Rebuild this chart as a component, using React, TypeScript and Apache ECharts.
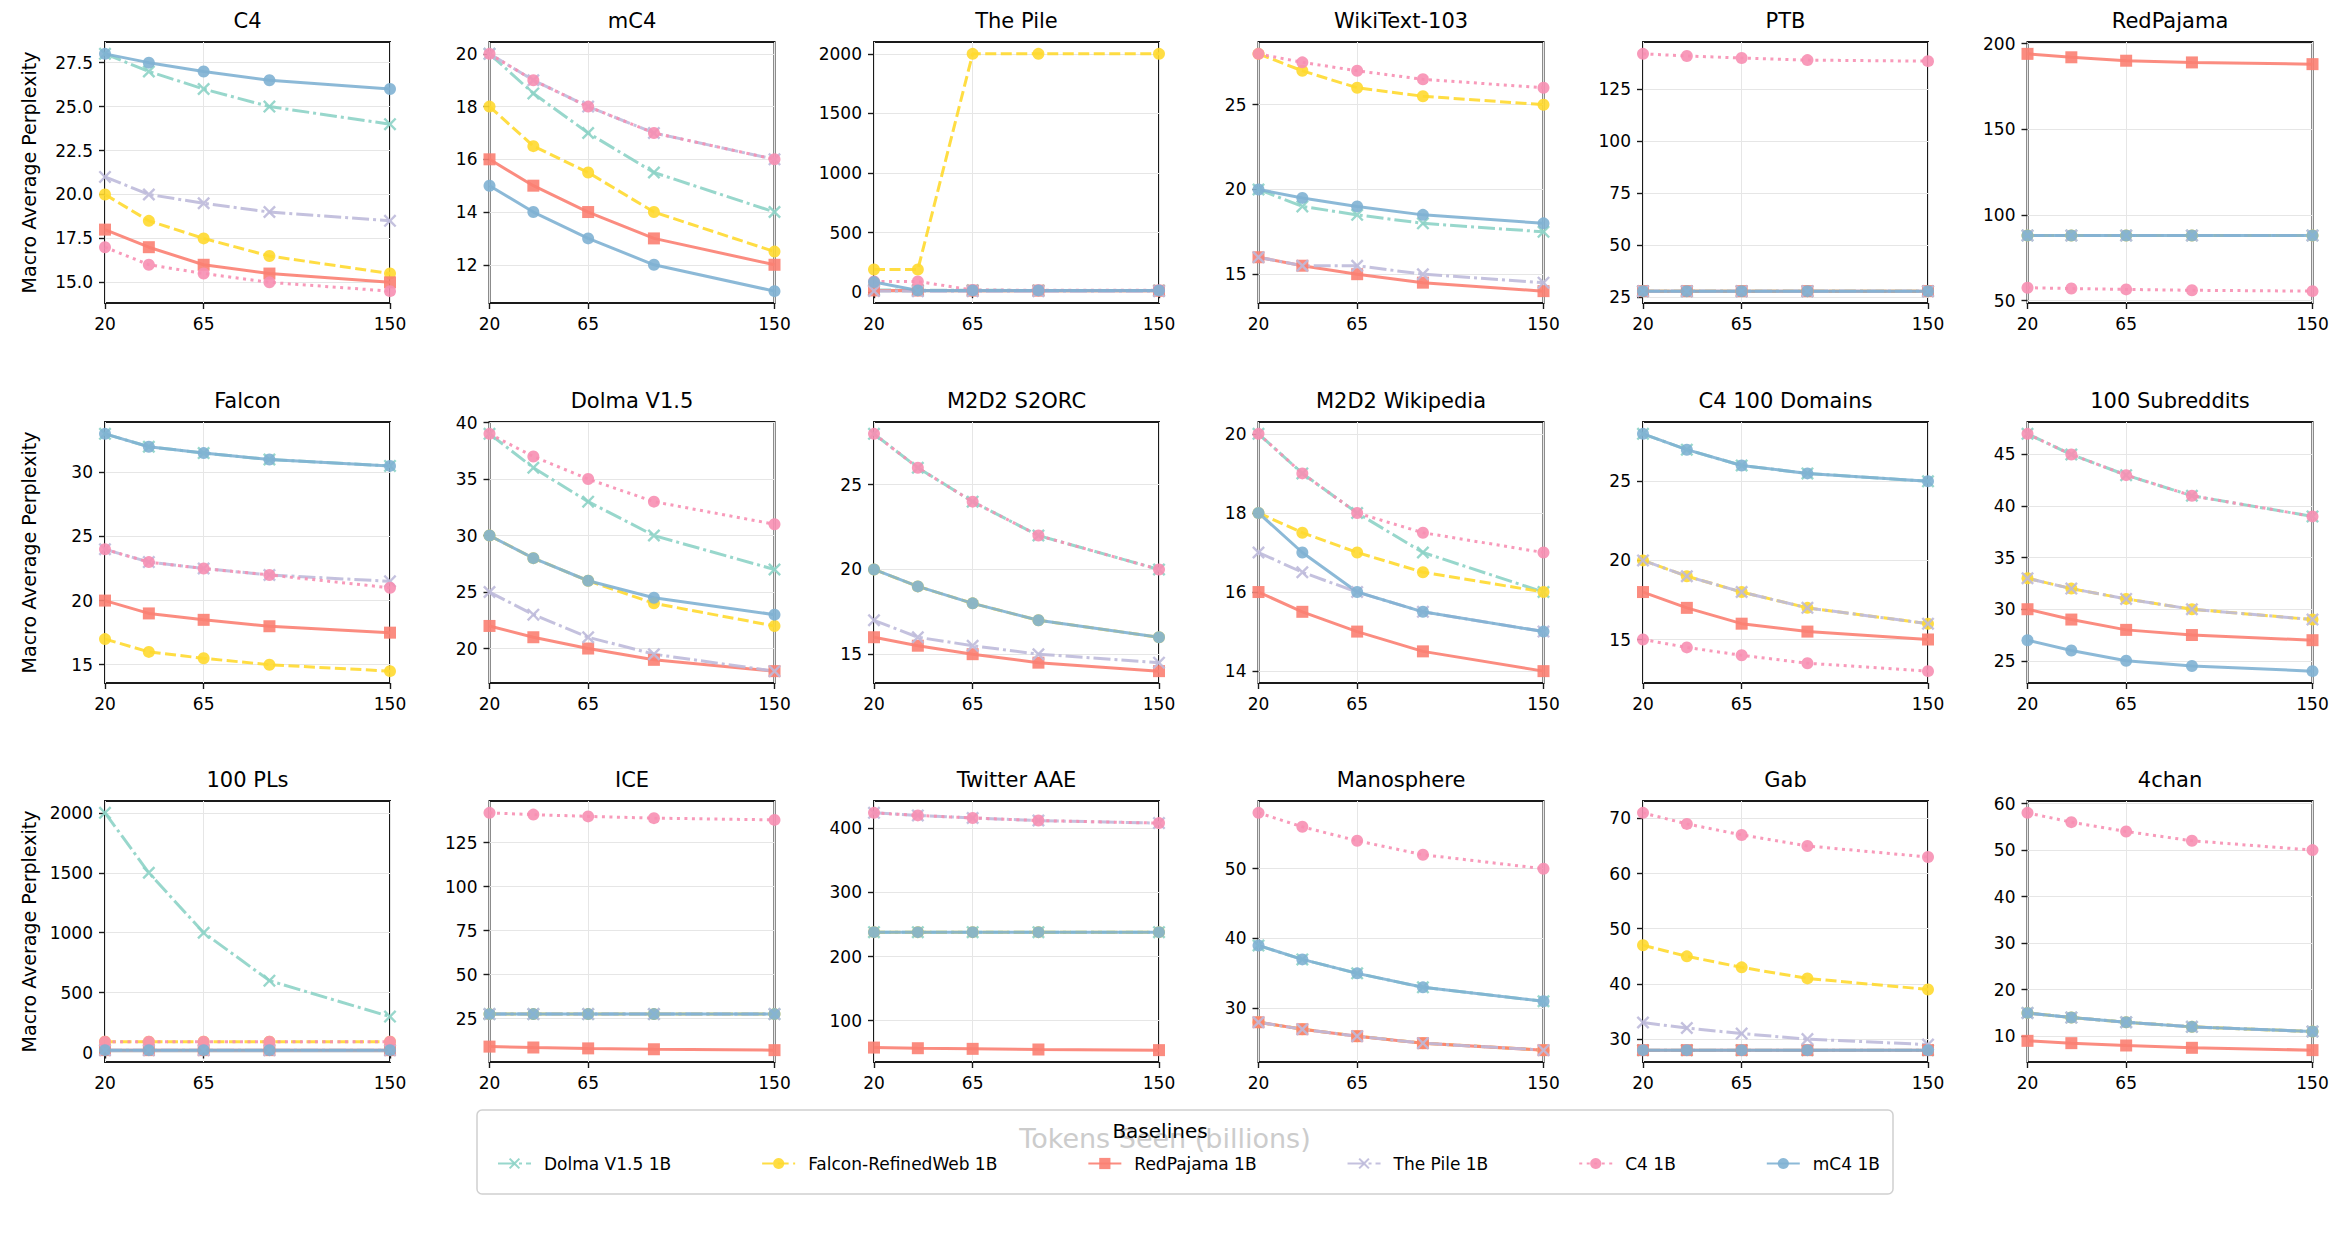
import React, { useEffect, useRef } from "react";
import * as echarts from "echarts";

// ---------------- data ----------------
const tokens = [20, 40, 65, 95, 150];
const xTickValues = [20, 65, 150];

const baselines = ["Dolma V1.5 1B", "Falcon-RefinedWeb 1B", "RedPajama 1B", "The Pile 1B", "C4 1B", "mC4 1B"];

const panelTitles = [
  "C4", "mC4", "The Pile", "WikiText-103", "PTB", "RedPajama",
  "Falcon", "Dolma V1.5", "M2D2 S2ORC", "M2D2 Wikipedia", "C4 100 Domains", "100 Subreddits",
  "100 PLs", "ICE", "Twitter AAE", "Manosphere", "Gab", "4chan",
];

const dolmaPPL = [
  [28, 27, 26, 25, 24], [20, 18.5, 17, 15.5, 14], [18, 17, 16, 15, 15], [20, 19, 18.5, 18, 17.5], [28, 28, 28, 28, 28], [88, 88, 88, 88, 88],
  [33, 32, 31.5, 31, 30.5], [39, 36, 33, 30, 27], [28, 26, 24, 22, 20], [20, 19, 18, 17, 16], [28, 27, 26, 25.5, 25], [47, 45, 43, 41, 39],
  [2000, 1500, 1000, 600, 300], [27.5, 27.5, 27.5, 27.5, 27.5], [238, 238, 238, 238, 238], [39, 37, 35, 33, 31], [28, 28, 28, 28, 28], [15, 14, 13, 12, 11],
];
const falconPPL = [
  [20, 18.5, 17.5, 16.5, 15.5], [18, 16.5, 15.5, 14, 12.5], [190, 190, 2000, 2000, 2000], [28, 27, 26, 25.5, 25], [28, 28, 28, 28, 28], [88, 88, 88, 88, 88],
  [17, 16, 15.5, 15, 14.5], [30, 28, 26, 24, 22], [20, 19, 18, 17, 16], [18, 17.5, 17, 16.5, 16], [20, 19, 18, 17, 16], [33, 32, 31, 30, 29],
  [90, 90, 90, 90, 90], [27.5, 27.5, 27.5, 27.5, 27.5], [238, 238, 238, 238, 238], [28, 27, 26, 25, 24], [47, 45, 43, 41, 39], [15, 14, 13, 12, 11],
];
const redPajamaPPL = [
  [18, 17, 16, 15.5, 15], [16, 15, 14, 13, 12], [15, 14, 13, 13, 12], [16, 15.5, 15, 14.5, 14], [28, 28, 28, 28, 28], [194, 192, 190, 189, 188],
  [20, 19, 18.5, 18, 17.5], [22, 21, 20, 19, 18], [16, 15.5, 15, 14.5, 14], [16, 15.5, 15, 14.5, 14], [18, 17, 16, 15.5, 15], [30, 29, 28, 27.5, 27],
  [20, 20, 20, 20, 20], [9, 8.5, 8, 7.5, 7], [58, 57, 56, 55, 54], [28, 27, 26, 25, 24], [28, 28, 28, 28, 28], [9, 8.5, 8, 7.5, 7],
];
const pilePPL = [
  [21, 20, 19.5, 19, 18.5], [20, 19, 18, 17, 16], [10, 9, 9, 9, 9], [16, 15.5, 15.5, 15, 14.5], [28, 28, 28, 28, 28], [88, 88, 88, 88, 88],
  [24, 23, 22.5, 22, 21.5], [25, 23, 21, 19.5, 18], [17, 16, 15.5, 15, 14.5], [17, 16.5, 16, 15.5, 15], [20, 19, 18, 17, 16], [33, 32, 31, 30, 29],
  [20, 20, 20, 20, 20], [27.5, 27.5, 27.5, 27.5, 27.5], [424, 420, 416, 412, 408], [28, 27, 26, 25, 24], [33, 32, 31, 30, 29], [15, 14, 13, 12, 11],
];
const c4PPL = [
  [17, 16, 15.5, 15, 14.5], [20, 19, 18, 17, 16], [90, 90, 18, 17, 17], [28, 27.5, 27, 26.5, 26], [142, 141, 140, 139, 138.5], [57.5, 57, 56.5, 56, 55.5],
  [24, 23, 22.5, 22, 21], [39, 37, 35, 33, 31], [28, 26, 24, 22, 20], [20, 19, 18, 17.5, 17], [15, 14.5, 14, 13.5, 13], [47, 45, 43, 41, 39],
  [90, 90, 90, 90, 90], [142, 141, 140, 139, 138], [424, 420, 416, 412, 408], [58, 56, 54, 52, 50], [71, 69, 67, 65, 63], [58, 56, 54, 52, 50],
];
const mc4PPL = [
  [28, 27.5, 27, 26.5, 26], [15, 14, 13, 12, 11], [85, 15, 15, 15, 15], [20, 19.5, 19, 18.5, 18], [28, 28, 28, 28, 28], [88, 88, 88, 88, 88],
  [33, 32, 31.5, 31, 30.5], [30, 28, 26, 24.5, 23], [20, 19, 18, 17, 16], [18, 17, 16, 15.5, 15], [28, 27, 26, 25.5, 25], [27, 26, 25, 24.5, 24],
  [20, 20, 20, 20, 20], [27.5, 27.5, 27.5, 27.5, 27.5], [238, 238, 238, 238, 238], [39, 37, 35, 33, 31], [28, 28, 28, 28, 28], [15, 14, 13, 12, 11],
];

const yTickValues = [
  [15, 17.5, 20, 22.5, 25, 27.5], [12, 14, 16, 18, 20], [0, 500, 1000, 1500, 2000], [15, 20, 25], [25, 50, 75, 100, 125], [50, 100, 150, 200],
  [15, 20, 25, 30], [20, 25, 30, 35, 40], [15, 20, 25], [14, 16, 18, 20], [15, 20, 25], [25, 30, 35, 40, 45],
  [0, 500, 1000, 1500, 2000], [25, 50, 75, 100, 125], [100, 200, 300, 400], [30, 40, 50], [30, 40, 50, 60, 70], [10, 20, 30, 40, 50, 60],
];

const allSeries = [dolmaPPL, falconPPL, redPajamaPPL, pilePPL, c4PPL, mc4PPL];

// ---------------- styles / layout ----------------
const FONT = "DejaVu Sans";
const X_PATH = "path://M0,1.3L1.3,0L5,3.7L8.7,0L10,1.3L6.3,5L10,8.7L8.7,10L5,6.3L1.3,10L0,8.7L3.7,5Z";
const seriesStyles = [
  { color: "#8dd3c7", dash: [17, 4, 3, 4] as any, symbol: X_PATH, size: 13 },
  { color: "#ffd92f", dash: [11, 4.5] as any, symbol: "circle", size: 12 },
  { color: "#fb8072", dash: "solid" as any, symbol: "rect", size: 12 },
  { color: "#bebada", dash: [17, 4, 3, 4] as any, symbol: X_PATH, size: 13 },
  { color: "#f78fb3", dash: [3, 4.5] as any, symbol: "circle", size: 12 },
  { color: "#80b1d3", dash: "solid" as any, symbol: "circle", size: 12 },
];

const COL_LEFT0 = 105;
const COL_STEP = 384.5;
const PLOT_W = 285;
const ROW_TOPS = [42, 422, 801];
const PLOT_H = 261;

function buildOption() {
  const grids: any[] = [];
  const xAxes: any[] = [];
  const yAxes: any[] = [];
  const series: any[] = [];
  const graphics: any[] = [];

  panelTitles.forEach((title, i) => {
    const r = Math.floor(i / 6);
    const c = i % 6;
    const left = COL_LEFT0 + c * COL_STEP;
    const top = ROW_TOPS[r];
    grids.push({
      left, top, width: PLOT_W, height: PLOT_H,
      show: true, borderColor: "#1a1a1a", borderWidth: 2, backgroundColor: "transparent",
      containLabel: false, outerBoundsMode: "none",
    });

    let lo = Infinity, hi = -Infinity;
    allSeries.forEach((s) => s[i].forEach((v) => { lo = Math.min(lo, v); hi = Math.max(hi, v); }));
    const pad = (hi - lo) * 0.05;
    const ticks = yTickValues[i];
    const decimals = ticks.some((t) => Math.round(t) !== t) ? 1 : 0;

    xAxes.push({
      type: "value", gridIndex: i, min: 20, max: 150,
      axisLine: { show: false },
      axisTick: { show: true, length: 6, lineStyle: { color: "#1a1a1a", width: 1.4 }, customValues: xTickValues },
      axisLabel: { customValues: xTickValues, fontSize: 17, fontFamily: FONT, color: "#000", margin: 12, formatter: (v: number) => String(v) },
      splitLine: { show: true, lineStyle: { color: "#e6e6e6", width: 1 } },
    });
    yAxes.push({
      type: "value", gridIndex: i, min: lo - pad, max: hi + pad,
      axisLine: { show: false },
      axisTick: { show: true, length: 6, lineStyle: { color: "#1a1a1a", width: 1.4 }, customValues: ticks },
      axisLabel: { customValues: ticks, fontSize: 17, fontFamily: FONT, color: "#000", margin: 12, formatter: (v: number) => v.toFixed(decimals) },
      splitLine: { show: true, lineStyle: { color: "#e6e6e6", width: 1 } },
    });

    allSeries.forEach((s, k) => {
      const st = seriesStyles[k];
      series.push({
        type: "line", name: baselines[k], xAxisIndex: i, yAxisIndex: i,
        data: tokens.map((t, j) => [t, s[i][j]]),
        symbol: st.symbol, symbolSize: st.size, showSymbol: true,
        lineStyle: { color: st.color, width: 3, type: st.dash, opacity: 0.9, cap: "butt" },
        itemStyle: { color: st.color, opacity: 0.9 },
        emphasis: { disabled: true }, clip: true, silent: true,
      });
    });

    graphics.push({
      type: "text", x: left + PLOT_W / 2, y: top - 21, z: 10,
      style: { text: title, fontSize: 21, fontFamily: FONT, fill: "#000", align: "center", verticalAlign: "middle", textAlign: "center", textVerticalAlign: "middle" },
    });
  });

  ROW_TOPS.forEach((top) => {
    graphics.push({
      type: "text", x: 29, y: top + PLOT_H / 2, rotation: Math.PI / 2, z: 10,
      style: { text: "Macro Average Perplexity", fontSize: 19, fontFamily: FONT, fill: "#000", align: "center", verticalAlign: "middle", textAlign: "center", textVerticalAlign: "middle" },
    });
  });

  // legend frame, x label (under the semi-transparent frame) and legend title
  graphics.push({
    type: "rect", z: 1, shape: { x: 477, y: 1110, width: 1416, height: 84, r: 5 },
    style: { fill: "#ffffff", stroke: "#d0d0d0", lineWidth: 1.5 },
  });
  graphics.push({
    type: "text", x: 1165, y: 1138, z: 2,
    style: { text: "Tokens Seen (billions)", fontSize: 27, fontFamily: FONT, fill: "#cccccc", align: "center", verticalAlign: "middle", textAlign: "center", textVerticalAlign: "middle" },
  });
  graphics.push({
    type: "text", x: 1160, y: 1131, z: 3,
    style: { text: "Baselines", fontSize: 20, fontFamily: FONT, fill: "#000", align: "center", verticalAlign: "middle", textAlign: "center", textVerticalAlign: "middle" },
  });

  return {
    animation: false,
    backgroundColor: "#ffffff",
    textStyle: { fontFamily: FONT },
    grid: grids,
    xAxis: xAxes,
    yAxis: yAxes,
    series,
    graphic: { elements: graphics },
    legend: {
      data: baselines, left: 492, top: 1150, orient: "horizontal",
      itemWidth: 33, itemHeight: 14, itemGap: 90, z: 5,
      selectedMode: false,
      textStyle: { fontSize: 17, fontFamily: FONT, color: "#000", padding: [0, 0, 0, 8] },
    },
  };
}

export default function App() {
  const ref = useRef<HTMLDivElement>(null);
  useEffect(() => {
    if (!ref.current) return;
    const chart = echarts.init(ref.current, null, { renderer: "svg" });
    chart.setOption(buildOption() as any);
    return () => chart.dispose();
  }, []);
  return <div ref={ref} style={{ position: "fixed", left: 0, top: 0, width: 2346, height: 1235, background: "#fff" }} />;
}
